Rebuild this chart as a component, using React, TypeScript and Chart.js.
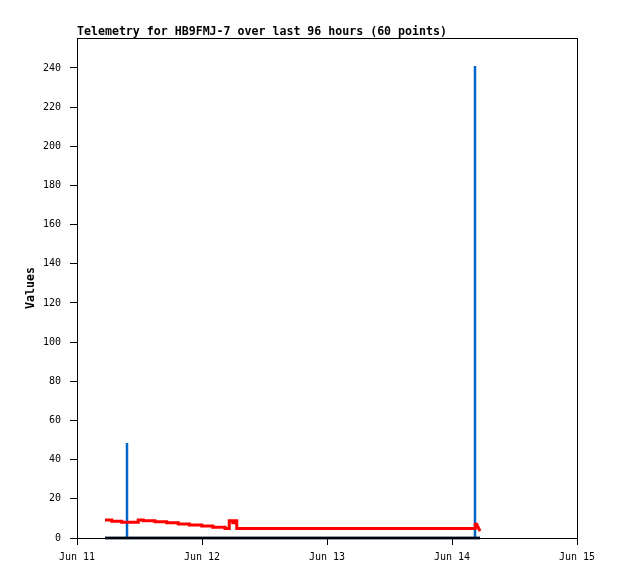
import React, { useEffect, useRef } from "react";
import { Chart, registerables } from "chart.js";

Chart.register(...registerables);

const TITLE = "Telemetry for HB9FMJ-7 over last 96 hours (60 points)";
const Y_LABEL = "Values";
const X_TICK_LABELS = ["Jun 11", "Jun 12", "Jun 13", "Jun 14", "Jun 15"];

// x = days since Jun 11 00:00
const RED_X = [0.224, 0.278, 0.358, 0.49, 0.53, 0.624, 0.718, 0.81, 0.898, 0.998, 1.086, 1.184, 1.218, 1.246, 1.258, 1.278, 2.0, 2.6, 3.184];
const RED_Y = [9.2, 8.6, 8.1, 9.2, 8.8, 8.3, 7.8, 7.2, 6.6, 6.1, 5.5, 4.8, 8.8, 7.8, 8.8, 4.8, 4.8, 4.8, 4.8];
const RED_TAIL_X = [3.184, 3.186, 3.198, 3.224];
const RED_TAIL_Y = [4.8, 7.0, 7.0, 3.5];

const BLUE_X = [0.224, 0.4, 0.4, 0.4, 3.184, 3.184, 3.184, 3.224];
const BLUE_Y = [0, 0, 48.5, 0, 0, 241, 0, 0];

const BLACK_X = [0.224, 3.224];
const BLACK_Y = [0, 0];

const zip = (xs: number[], ys: number[]) => xs.map((x, i) => ({ x, y: ys[i] }));

const decorPlugin = {
  id: "decor",
  afterDraw(chart: any) {
    const { ctx, chartArea } = chart;
    ctx.save();
    ctx.strokeStyle = "#000";
    ctx.lineWidth = 1;
    ctx.strokeRect(chartArea.left + 0.5, chartArea.top + 0.5, chartArea.right - chartArea.left, chartArea.bottom - chartArea.top);
    ctx.fillStyle = "#000";
    ctx.font = "bold 11.6px 'DejaVu Sans Mono', monospace";
    ctx.textAlign = "left";
    ctx.textBaseline = "alphabetic";
    ctx.fillText(TITLE, chartArea.left, 35);
    ctx.translate(31, (chartArea.top + chartArea.bottom) / 2);
    ctx.rotate(-Math.PI / 2);
    ctx.textAlign = "center";
    ctx.textBaseline = "middle";
    ctx.font = "bold 11.6px 'DejaVu Sans Mono', monospace";
    ctx.fillText(Y_LABEL, 0, 0);
    ctx.restore();
  },
};

export default function App() {
  const ref = useRef<HTMLCanvasElement>(null);
  useEffect(() => {
    if (!ref.current) return;
    const chart = new Chart(ref.current, {
      type: "line",
      data: {
        datasets: [
          { data: zip(BLUE_X, BLUE_Y), borderColor: "#0066cc", borderWidth: 2.5, pointRadius: 0, fill: false, clip: 4, order: 3 },
          { data: zip(RED_X, RED_Y), borderColor: "#ff0000", borderWidth: 3, pointRadius: 0, stepped: true, fill: false, clip: 4, order: 2 },
          { data: zip(RED_TAIL_X, RED_TAIL_Y), borderColor: "#ff0000", borderWidth: 3, pointRadius: 0, fill: false, clip: 4, order: 2 },
          { data: zip(BLACK_X, BLACK_Y), borderColor: "#000000", borderWidth: 2.5, pointRadius: 0, fill: false, clip: 4, order: 1 },
        ],
      },
      options: {
        responsive: false,
        animation: false,
        events: [],
        layout: { padding: { top: 38, right: 41, left: 0, bottom: 0 } },
        plugins: { legend: { display: false }, tooltip: { enabled: false }, title: { display: false } },
        scales: {
          x: {
            type: "linear",
            min: 0,
            max: 4,
            afterFit: (s: any) => { s.height = 41; },
            afterBuildTicks: (s: any) => { s.ticks = X_TICK_LABELS.map((_, i) => ({ value: i })); },
            ticks: {
              color: "#000",
              font: { family: "'DejaVu Sans Mono', monospace", size: 10 },
              padding: 6,
              maxRotation: 0,
              autoSkip: false,
              callback: (v: any) => X_TICK_LABELS[Math.round(Number(v))] ?? "",
            },
            grid: { drawOnChartArea: false, drawTicks: true, tickLength: 7, color: "#000" },
            border: { display: true, color: "#000" },
          },
          y: {
            type: "linear",
            min: 0,
            max: 255.3,
            afterFit: (s: any) => { s.width = 77; },
            afterBuildTicks: (s: any) => {
              const t = [];
              for (let v = 0; v <= 240; v += 20) t.push({ value: v });
              s.ticks = t;
            },
            ticks: {
              color: "#000",
              font: { family: "'DejaVu Sans Mono', monospace", size: 10 },
              padding: 9,
              autoSkip: false,
            },
            grid: { drawOnChartArea: false, drawTicks: true, tickLength: 7, color: "#000" },
            border: { display: true, color: "#000" },
          },
        },
      },
      plugins: [decorPlugin],
    });
    return () => chart.destroy();
  }, []);
  return (
    <div style={{ position: "absolute", left: 0, top: 0, width: 618, height: 579, background: "#fff" }}>
      <canvas ref={ref} width={618} height={579} style={{ display: "block" }} />
    </div>
  );
}
